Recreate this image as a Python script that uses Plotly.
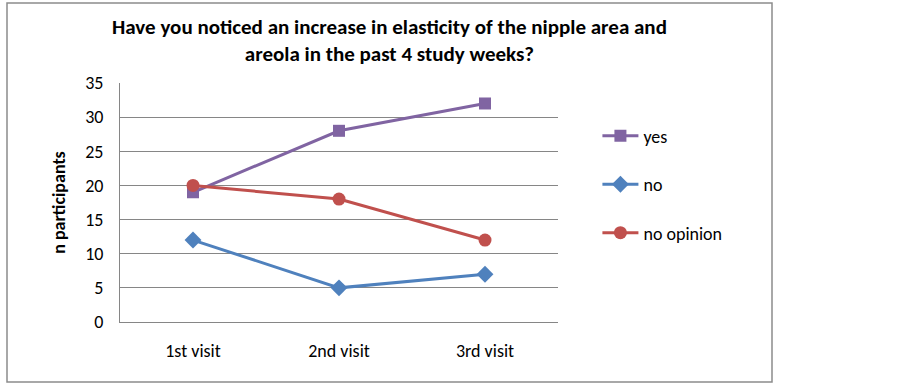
import plotly.graph_objects as go

categories = ["1st visit", "2nd visit", "3rd visit"]
yes_vals = [19, 28, 32]
no_vals = [12, 5, 7]
no_opinion_vals = [20, 18, 12]
y_ticks = [0, 5, 10, 15, 20, 25, 30, 35]

FONT = "Carlito, Calibri, 'Liberation Sans Narrow', 'Noto Sans', sans-serif"

fig = go.Figure()
fig.add_trace(go.Scatter(x=categories, y=yes_vals, name="yes", mode="lines+markers",
                         line=dict(color="#8064A2", width=3),
                         marker=dict(symbol="square", size=12, color="#8064A2"),
                         legendgroup="a"))
fig.add_trace(go.Scatter(x=categories, y=no_vals, name="no", mode="lines+markers",
                         line=dict(color="#4F81BD", width=3),
                         marker=dict(symbol="diamond", size=13, color="#4F81BD"),
                         legendgroup="b"))
fig.add_trace(go.Scatter(x=categories, y=no_opinion_vals, name="no opinion", mode="lines+markers",
                         line=dict(color="#C0504D", width=3),
                         marker=dict(symbol="circle", size=13, color="#C0504D"),
                         legendgroup="c"))

fig.update_layout(
    width=903, height=383,
    margin=dict(l=120, r=345, t=83, b=61),
    paper_bgcolor="white", plot_bgcolor="white",
    font=dict(family=FONT, size=18, color="black"),
    showlegend=True,
    legend=dict(x=1.09, y=0.855, xanchor="left", yanchor="top",
                font=dict(size=18), tracegroupgap=22, itemwidth=36,
                bgcolor="rgba(0,0,0,0)"),
    xaxis=dict(type="category", range=[-0.5, 2.5], showline=True, linecolor="#868686",
               linewidth=1, ticks="", showgrid=False, tickfont=dict(size=18), ticklabelstandoff=12),
    yaxis=dict(range=[0, 35], tickvals=y_ticks, showline=True, linecolor="#868686", linewidth=1,
               showgrid=True, gridcolor="#868686", gridwidth=1, ticks="", zeroline=False,
               tickfont=dict(size=18), ticklabelstandoff=12,
               title=dict(text="<b>n participants</b>", font=dict(size=18), standoff=14)),
    annotations=[dict(text="<b>Have you noticed an increase in elasticity of the nipple area and<br>areola in the past 4 study weeks?</b>",
                      xref="paper", yref="paper", x=(389.5 - 120) / 438, y=1, xanchor="center",
                      yanchor="bottom", yshift=14, showarrow=False,
                      font=dict(size=21), align="center")],
    shapes=[dict(type="rect", xref="paper", yref="paper",
                 x0=(7 - 120) / 438, x1=(772 - 120) / 438,
                 y0=(322 - 382) / 239, y1=(322 - 3) / 239,
                 line=dict(color="#8c8c8c", width=1.5))],
)

fig.write_html("out.html", config={"displayModeBar": False},
               post_script="document.body.style.margin='0';")
